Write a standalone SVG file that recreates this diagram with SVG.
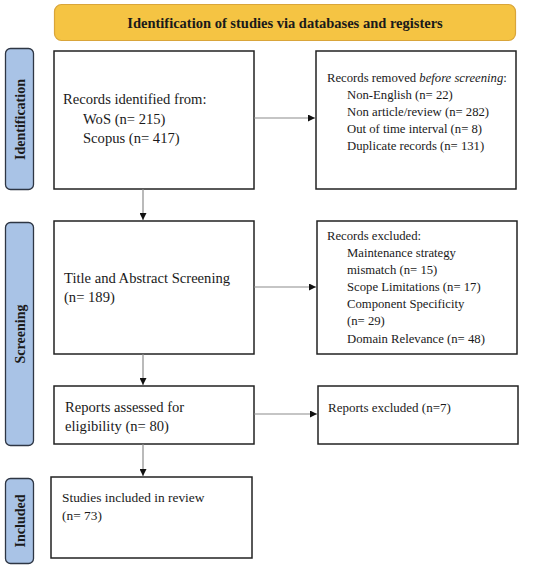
<svg xmlns="http://www.w3.org/2000/svg" width="550" height="568" viewBox="0 0 550 568">
<defs>
<style>
.box{fill:#fff;stroke:#222;stroke-width:1.5}
.side{fill:#a9c3e6;stroke:#2e3644;stroke-width:1.3}
.t{font-family:"Liberation Serif","Times New Roman",serif;fill:#1a1a1a}
.b{font-weight:bold}
.con{stroke:#8c8c8c;stroke-width:1.2;fill:none;marker-end:url(#ah)}
</style>
<marker id="ah" viewBox="0 0 10 10" refX="10" refY="5" markerWidth="7" markerHeight="7" markerUnits="userSpaceOnUse" orient="auto">
<path d="M0,0 L10,5 L0,10 z" fill="#111"/>
</marker>
</defs>
<rect width="550" height="568" fill="#fff"/>

<g id="banner">
<rect x="54.5" y="4.5" width="461" height="36" rx="7" fill="#f5c443" stroke="#d9a53a" stroke-width="1.2"/>
<text class="t b" x="285" y="28" font-size="14.5" text-anchor="middle">Identification of studies via databases and registers</text>
</g>

<g id="side-identification">
<rect class="side" x="5.5" y="48.5" width="28" height="141" rx="5"/>
<text class="t b" font-size="14" text-anchor="middle" transform="translate(24.5,119.5) rotate(-90)">Identification</text>
</g>
<g id="side-screening">
<rect class="side" x="5.5" y="222.5" width="28" height="223" rx="5"/>
<text class="t b" font-size="14" text-anchor="middle" transform="translate(24.5,334) rotate(-90)">Screening</text>
</g>
<g id="side-included">
<rect class="side" x="5.5" y="478.5" width="28" height="85" rx="5"/>
<text class="t b" font-size="14" text-anchor="middle" transform="translate(24.5,521) rotate(-90)">Included</text>
</g>

<g id="records-identified">
<rect class="box" x="54" y="51" width="200" height="138"/>
<text class="t" font-size="14.6" x="63" y="104">Records identified from:</text>
<text class="t" font-size="14.6" x="83" y="124">WoS (n= 215)</text>
<text class="t" font-size="14.6" x="83" y="143">Scopus (n= 417)</text>
</g>

<g id="records-removed">
<rect class="box" x="316" y="51" width="200" height="138"/>
<text class="t" font-size="12.7" x="327" y="82">Records removed <tspan font-style="italic">before screening</tspan>:</text>
<text class="t" font-size="12.7" x="347" y="99">Non-English (n= 22)</text>
<text class="t" font-size="12.7" x="347" y="116">Non article/review (n= 282)</text>
<text class="t" font-size="12.7" x="347" y="133">Out of time interval (n= 8)</text>
<text class="t" font-size="12.7" x="347" y="150">Duplicate records (n= 131)</text>
</g>

<g id="title-abstract">
<rect class="box" x="54" y="221" width="200" height="133"/>
<text class="t" font-size="14.6" x="64" y="283">Title and Abstract Screening</text>
<text class="t" font-size="14.6" x="64" y="302">(n= 189)</text>
</g>

<g id="records-excluded">
<rect class="box" x="317" y="221" width="200" height="133"/>
<text class="t" font-size="12.7" x="327" y="240">Records excluded:</text>
<text class="t" font-size="12.7" x="347" y="257">Maintenance strategy</text>
<text class="t" font-size="12.7" x="347" y="274">mismatch (n= 15)</text>
<text class="t" font-size="12.7" x="347" y="291">Scope Limitations (n= 17)</text>
<text class="t" font-size="12.7" x="347" y="308">Component Specificity</text>
<text class="t" font-size="12.7" x="347" y="325">(n= 29)</text>
<text class="t" font-size="12.7" x="347" y="343">Domain Relevance (n= 48)</text>
</g>

<g id="reports-assessed">
<rect class="box" x="54" y="386" width="200" height="58"/>
<text class="t" font-size="14.6" x="65" y="412">Reports assessed for</text>
<text class="t" font-size="14.6" x="65" y="431">eligibility (n= 80)</text>
</g>

<g id="reports-excluded">
<rect class="box" x="318" y="386" width="200" height="58"/>
<text class="t" font-size="13" x="328" y="412">Reports excluded (n=7)</text>
</g>

<g id="studies-included">
<rect class="box" x="51" y="477" width="201" height="81"/>
<text class="t" font-size="13.4" x="62" y="502">Studies included in review</text>
<text class="t" font-size="13.4" x="62" y="520">(n= 73)</text>
</g>

<g id="connectors">
<line class="con" x1="254" y1="118" x2="315" y2="118"/>
<line class="con" x1="143" y1="189" x2="143" y2="220"/>
<line class="con" x1="254" y1="287" x2="316" y2="287"/>
<line class="con" x1="143" y1="354" x2="143" y2="385"/>
<line class="con" x1="254" y1="414" x2="317" y2="414"/>
<line class="con" x1="143" y1="444" x2="143" y2="476"/>
</g>
</svg>
